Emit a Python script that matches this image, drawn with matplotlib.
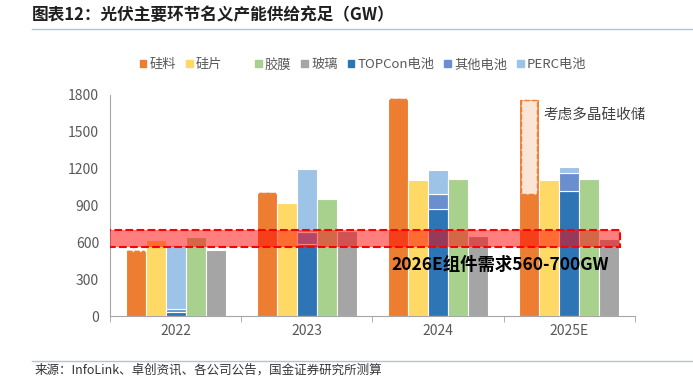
import numpy as np
import matplotlib.pyplot as plt
from matplotlib.patches import Rectangle, Patch
from matplotlib.lines import Line2D

plt.rcParams['font.family'] = ['Noto Sans CJK SC', 'DejaVu Sans']

# --- data (GW) ---
years = ['2022', '2023', '2024', '2025E']
silicon = [530, 1000, 1770, 990]
silicon_stock = [0, 0, 0, 780]      # 2025E: polysilicon reserve on top
wafer = [620, 920, 1110, 1110]
topcon = [35, 590, 870, 1020]
other_cell = [20, 90, 125, 147]
perc = [525, 520, 195, 43]
film = [640, 950, 1115, 1115]
glass = [540, 690, 655, 630]
demand_low, demand_high = 560, 700

c_si = '#ED7D31'
c_wafer = '#FFD966'
c_film = '#A9D18E'
c_glass = '#A5A5A5'
c_topcon = '#2E75B6'
c_other = '#6A8FD0'
c_perc = '#9DC3E6'

fig = plt.figure(figsize=(6.93, 3.84), dpi=100)
ax = fig.add_axes([0.159, 0.177, 0.757, 0.576])

x = np.arange(len(years))
w = 0.153
ec = dict(edgecolor='white', linewidth=0.8)

si_total = np.array(silicon) + np.array(silicon_stock)
ax.bar(x - 2 * w, si_total, w, color=c_si, **ec)
# reserve part drawn as a light dashed box inside the orange bar
ax.bar(x - 2 * w, np.array(silicon_stock) * 0.98, w * 0.82, bottom=silicon,
       color='#FBE5D6', edgecolor=c_si, linewidth=1.0, linestyle='--')
ax.bar(x - w, wafer, w, color=c_wafer, **ec)
ax.bar(x, topcon, w, color=c_topcon, **ec)
ax.bar(x, other_cell, w, bottom=topcon, color=c_other, **ec)
bot = np.array(topcon) + np.array(other_cell)
ax.bar(x, perc, w, bottom=bot, color=c_perc, **ec)
ax.bar(x + w, film, w, color=c_film, **ec)
ax.bar(x + 2 * w, glass, w, color=c_glass, **ec)

# demand band
band = Rectangle((-0.515, demand_low), 3.905, demand_high - demand_low,
                 facecolor=(1, 0, 0, 0.5), edgecolor='#FF0000',
                 linestyle='--', linewidth=1.5, zorder=5)
ax.add_patch(band)

ax.text(2.477, 415, '2026E组件需求560-700GW', fontsize=12.5, fontweight='bold',
        ha='center', va='center', color='black', zorder=6)
ax.text(2.805, 1637, '考虑多晶硅收储', fontsize=10.5, ha='left', va='center',
        color='#404040')

ax.set_xlim(-0.5, 3.5)
ax.set_ylim(0, 1800)
ax.set_yticks(range(0, 1801, 300))
ax.set_xticks(x)
ax.set_xticklabels(years)
ax.set_xticks(np.arange(-0.5, 3.6, 1), minor=True)
ax.tick_params(axis='x', which='major', length=0, pad=6, labelsize=10, labelcolor='#595959')
ax.tick_params(axis='x', which='minor', length=4, color='#A6A6A6')
ax.tick_params(axis='y', length=0, pad=8, labelsize=10, labelcolor='#595959')
for s in ['top', 'right']:
    ax.spines[s].set_visible(False)
for s in ['left', 'bottom']:
    ax.spines[s].set_color('#A6A6A6')

# legend
handles = [Patch(color=c_si, label='硅料'), Patch(color=c_wafer, label='硅片'),
           Patch(color='none', label=' '),
           Patch(color=c_film, label='胶膜'), Patch(color=c_glass, label='玻璃'),
           Patch(color=c_topcon, label='TOPCon电池'), Patch(color=c_other, label='其他电池'),
           Patch(color=c_perc, label='PERC电池')]
fig.legend(handles=handles, loc='center', bbox_to_anchor=(0.524, 0.831), ncol=8,
           frameon=False, fontsize=9.5, handlelength=0.5, handleheight=0.5,
           handletextpad=0.25, columnspacing=0.75, labelcolor='#595959')

# title and source
fig.text(0.046, 0.961, '图表12：光伏主要环节名义产能供给充足（GW）', fontsize=12,
         fontweight='bold', fontstyle='italic', color='#1F1F1F', va='center')
fig.add_artist(Line2D([0.046, 1.0], [0.924, 0.924], color='#B4C3D2', linewidth=1))
fig.add_artist(Line2D([0.046, 1.0], [0.06, 0.06], color='#B4C3D2', linewidth=1))
fig.text(0.05, 0.036, '来源：InfoLink、卓创资讯、各公司公告，国金证券研究所测算', fontsize=9,
         color='#333333', va='center')

fig.savefig('out.png', dpi=100)
